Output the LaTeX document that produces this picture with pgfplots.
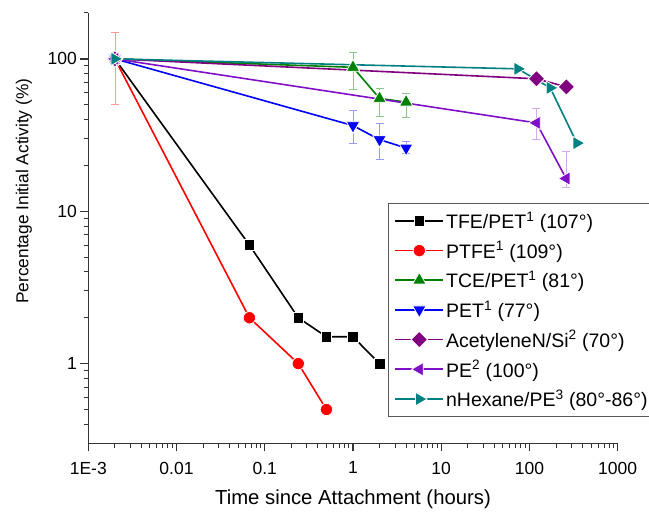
\documentclass[border=0pt]{standalone}
\usepackage{fontspec}
\setmainfont{Liberation Sans}
\usepackage{pgfplots}
\pgfplotsset{compat=1.18}
\definecolor{cgreen}{HTML}{008000}
\definecolor{cpurple}{HTML}{800080}
\definecolor{cviolet}{HTML}{8010C8}
\definecolor{cteal}{HTML}{008080}
\definecolor{caxis}{HTML}{333333}

\begin{document}
\begin{tikzpicture}
\path[use as bounding box] (-88.3pt,-69.7pt) rectangle (560.7pt,443.3pt);
\begin{axis}[
  at={(0,0)}, anchor=south west,
  scale only axis, width=529.4pt, height=430.3pt,
  xmode=log, ymode=log,
  xmin=1e-3, xmax=1000, ymin=0.3, ymax=200,
  axis x line*=bottom, axis y line*=left,
  axis line style={line width=1.5pt, caxis},
  tick align=outside,
  major tick length=8pt, minor tick length=4.5pt,
  major tick style={line width=1.3pt, caxis},
  minor tick style={line width=1pt, caxis},
  xtick={1e-3,0.01,0.1,1,10,100,1000},
  xticklabels={1E-3,0.01,0.1,1,10,100,1000},
  minor xtick={2e-3,3e-3,4e-3,5e-3,6e-3,7e-3,8e-3,9e-3,
    0.02,0.03,0.04,0.05,0.06,0.07,0.08,0.09,
    0.2,0.3,0.4,0.5,0.6,0.7,0.8,0.9,
    2,3,4,5,6,7,8,9,20,30,40,50,60,70,80,90,
    200,300,400,500,600,700,800,900},
  ytick={1,10,100},
  yticklabels={1,10,100},
  minor ytick={0.4,0.5,0.6,0.7,0.8,0.9,2,3,4,5,6,7,8,9,
    20,30,40,50,60,70,80,90,200},
  tick label style={font=\fontsize{17.5}{17.5}\selectfont},
  xticklabel style={yshift=-7pt},
  xlabel={Time since Attachment (hours)},
  ylabel={Percentage Initial Activity (\%)},
  xlabel style={font=\fontsize{20.3}{21}\selectfont,
    at={(axis description cs:0.5,0)}, anchor=north, inner sep=0pt, yshift=-46pt},
  ylabel style={font=\fontsize{17.3}{18}\selectfont,
    at={(axis description cs:0,0.586)}, anchor=center, inner sep=0pt, yshift=64.3pt},
  clip=false,
  every axis plot/.append style={line width=1.6pt},
  error bars/y dir=both, error bars/y explicit,
  legend style={at={(axis description cs:0.566,0.558)}, anchor=north west,
    font=\fontsize{19.5}{21}\selectfont, draw=black!65, line width=1.2pt,
    inner xsep=6pt, inner ysep=6pt, row sep=7.2pt, fill=white},
  legend cell align=left,
  legend image code/.code={%
    \draw[mark repeat=2, mark phase=2] plot coordinates {(0pt,0pt) (24pt,0pt) (48pt,0pt)};},
]

\addplot[black, mark=square*, mark size=5.4pt,
  mark options={draw=white, line width=0.8pt}]
  coordinates {(0.002,100)(0.067,6)(0.24,2)(0.5,1.5)(1,1.5)(2,1)};
\addlegendentry{TFE/PET\textsuperscript{1} (107°)}

\addplot[red, mark=*, mark size=6.2pt,
  mark options={draw=white, line width=0.8pt},
  error bars/error bar style={red!40, line width=0.7pt},
  error bars/error mark options={red!40, line width=0.7pt, mark size=4pt, rotate=90}]
  coordinates {(0.002,100) +- (0,50) (0.067,2) (0.24,1) (0.5,0.5)};
\addlegendentry{PTFE\textsuperscript{1} (109°)}

\addplot[cgreen, mark=triangle*, mark size=7.8pt,
  mark options={draw=white, line width=0.8pt},
  error bars/error bar style={cgreen!45, line width=0.7pt},
  error bars/error mark options={cgreen!45, line width=0.7pt, mark size=4pt, rotate=90}]
  coordinates {(0.002,100) (1,88) += (0,22) -= (0,25)
    (2,55) += (0,9.5) -= (0,13) (4,52) += (0,7) -= (0,10.4)};
\addlegendentry{TCE/PET\textsuperscript{1} (81°)}

\addplot[blue, mark=triangle*, mark size=7.8pt,
  mark options={rotate=180, draw=white, line width=0.8pt},
  error bars/error bar style={blue!40, line width=0.7pt},
  error bars/error mark options={blue!40, line width=0.7pt, mark size=4pt, rotate=90}]
  coordinates {(0.002,100) (1,36.5) += (0,9.2) -= (0,8.5)
    (2,29.5) += (0,8.1) -= (0,7.5) (4,26) += (0,2.8) -= (0,2)};
\addlegendentry{PET\textsuperscript{1} (77°)}

\addplot[cpurple, mark=square*, mark size=5.8pt,
  mark options={rotate=45, draw=white, line width=0.8pt}]
  coordinates {(0.002,100)(120,74)(262,65.5)};
\addlegendentry{AcetyleneN/Si\textsuperscript{2} (70°)}

\addplot[cviolet, mark=triangle*, mark size=7.8pt,
  mark options={rotate=90, draw=white, line width=0.8pt},
  error bars/error bar style={cviolet!35, line width=0.7pt},
  error bars/error mark options={cviolet!35, line width=0.7pt, mark size=4pt, rotate=90}]
  coordinates {(0.002,100) (120,38) += (0,9) -= (0,8.5)
    (260,16.4) += (0,8.5) -= (0,2)};
\addlegendentry{PE\textsuperscript{2} (100°)}

\addplot[cteal, mark=triangle*, mark size=7.8pt,
  mark options={rotate=-90, draw=white, line width=0.8pt}]
  coordinates {(0.002,100)(74,86)(172,64.5)(345,28)};
\addlegendentry{nHexane/PE\textsuperscript{3} (80°-86°)}

\end{axis}
\end{tikzpicture}
\end{document}
